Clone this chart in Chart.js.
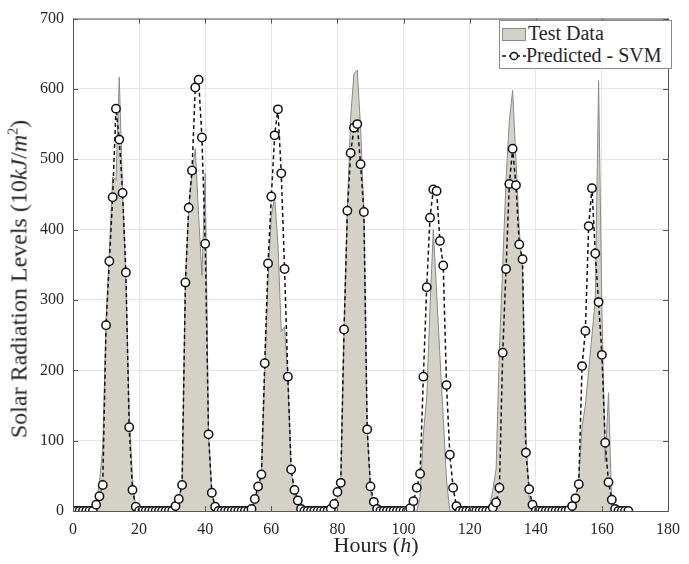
<!DOCTYPE html>
<html>
<head>
<meta charset="utf-8">
<script src="https://cdn.jsdelivr.net/npm/chart.js@4"></script>
<style>
  body { margin: 0; background: #fff; }
  #wrap { position: relative; width: 689px; height: 564px; font-family: "Liberation Serif", serif; color: #262626; }
  #chart { position: absolute; left: 0; top: 0; }
  #ytitle { position: absolute; left: 19px; top: 279px; transform: translate(-50%, -50%) rotate(-90deg); white-space: nowrap; font-size: 24px; }
  #xtitle { position: absolute; left: 376px; top: 545px; transform: translate(-50%, -50%); white-space: nowrap; font-size: 22px; }
  #legend { position: absolute; left: 499px; top: 20px; width: 171px; height: 47px; border: 1px solid #8a8a8a; background: #fff; font-size: 20px; }
  .row { position: absolute; left: 2px; white-space: nowrap; line-height: 22px; }
  .swatch { display: inline-block; width: 22px; height: 11px; background: #d4d1c6; border: 1px solid #8a8a8a; vertical-align: -1px; margin-right: 2px; }
</style>
</head>
<body>
<div id="wrap">
  <canvas id="chart" width="689" height="564"></canvas>
  <div id="ytitle">Solar Radiation Levels (10<i>kJ</i>/<i>m</i><sup style="font-size:14px">2</sup>)</div>
  <div id="xtitle">Hours (<i>h</i>)</div>
  <div id="legend">
    <div class="row" style="top:1px"><span class="swatch"></span>Test Data</div>
    <div class="row" style="top:23px"><svg width="24" height="12" style="vertical-align:0px"><line x1="0" y1="6" x2="24" y2="6" stroke="#111" stroke-width="1.5" stroke-dasharray="4,3"/><circle cx="12" cy="6" r="3.6" fill="#fff" stroke="#111" stroke-width="1.5"/></svg>Predicted - SVM</div>
  </div>
</div>
<script>
const hours = Array.from({ length: 169 }, (_, i) => i);

const testData = [
  0, 0, 0, 0, 0, 0, 0, 10, 40, 90, 270, 370, 475, 470, 617, 455, 330, 140, 45, 3,
  0, 0, 0, 0, 0, 0, 0, 0, 0, 0, 0, 5, 15, 45, 325, 430, 480, 515, 420, 335,
  480, 110, 25, 5, 0, 0, 0, 0, 0, 0, 0, 0, 0, 0, 0, 10, 25, 55, 195, 330,
  420, 447, 380, 255, 262, 190, 60, 20, 3, 0, 0, 0, 0, 0, 0, 0, 0, 0, 0, 5,
  20, 45, 260, 430, 560, 622, 627, 545, 425, 116, 30, 5, 0, 0, 0, 0, 0, 0, 0, 0,
  0, 0, 0, 0, 0, 20, 110, 160, 290, 400, 310, 221, 133, 44, 0, 0, 0, 0, 0, 0,
  0, 0, 0, 0, 0, 0, 5, 30, 60, 230, 350, 470, 555, 598, 500, 400, 340, 110, 20, 0,
  0, 0, 0, 0, 0, 0, 0, 0, 0, 0, 0, 0, 20, 45, 120, 150, 200, 250, 300, 612,
  290, 70, 168, 5, 0, 0, 0, 0, 0
];

const svmData = [
  0, 0, 0, 0, 0, 0, 0, 9, 21, 37, 264, 355, 446, 572, 528, 452, 339, 119, 30, 6,
  0, 0, 0, 0, 0, 0, 0, 0, 0, 0, 0, 7, 17, 37, 325, 431, 484, 602, 613, 531,
  380, 109, 26, 6, 0, 0, 0, 0, 0, 0, 0, 0, 0, 0, 3, 17, 35, 52, 210, 352,
  447, 534, 571, 480, 344, 191, 59, 30, 15, 3, 0, 0, 0, 0, 0, 0, 0, 0, 3, 10,
  27, 40, 258, 427, 509, 545, 550, 493, 425, 116, 35, 13, 3, 0, 0, 0, 0, 0, 0, 0,
  0, 0, 4, 14, 33, 53, 191, 318, 417, 457, 455, 384, 349, 179, 80, 33, 7, 0, 0, 0,
  0, 0, 0, 0, 0, 0, 0, 5, 12, 33, 225, 344, 465, 515, 463, 379, 358, 83, 31, 9,
  0, 0, 0, 0, 0, 0, 0, 0, 0, 0, 1, 7, 18, 38, 206, 256, 405, 459, 366, 297,
  222, 97, 41, 16, 3, 0, 0, 0, 0
];

const xTicks = [0, 20, 40, 60, 80, 100, 120, 140, 160, 180];
const yTicks = [0, 100, 200, 300, 400, 500, 600, 700];

// box round the plot with MATLAB style inward ticks
const frame = {
  id: 'frame',
  afterDatasetsDraw(chart) {
    const { ctx, chartArea: a, scales } = chart;
    ctx.save();
    ctx.strokeStyle = '#555';
    ctx.lineWidth = 1;
    ctx.strokeRect(a.left + 0.5, a.top + 0.5, a.right - a.left, a.bottom - a.top);
    ctx.beginPath();
    xTicks.forEach(v => {
      const x = Math.round(scales.x.getPixelForValue(v)) + 0.5;
      ctx.moveTo(x, a.bottom); ctx.lineTo(x, a.bottom - 5);
      ctx.moveTo(x, a.top); ctx.lineTo(x, a.top + 5);
    });
    yTicks.forEach(v => {
      const y = Math.round(scales.y.getPixelForValue(v)) + 0.5;
      ctx.moveTo(a.left, y); ctx.lineTo(a.left + 5, y);
      ctx.moveTo(a.right, y); ctx.lineTo(a.right - 5, y);
    });
    ctx.stroke();
    ctx.restore();
  }
};

new Chart(document.getElementById('chart'), {
  type: 'line',
  data: {
    datasets: [
      {
        label: 'Test Data',
        data: hours.map((h, i) => ({ x: h, y: testData[i] })),
        fill: 'origin',
        backgroundColor: '#d4d1c6',
        borderColor: '#8a8a8a',
        borderWidth: 1,
        pointRadius: 0,
        tension: 0,
        order: 2
      },
      {
        label: 'Predicted - SVM',
        data: hours.map((h, i) => ({ x: h, y: svmData[i] })),
        fill: false,
        borderColor: '#111',
        borderWidth: 1.5,
        borderDash: [4, 3],
        pointRadius: 4.2,
        pointBackgroundColor: '#fff',
        pointBorderColor: '#111',
        pointBorderWidth: 1.5,
        tension: 0,
        order: 1
      }
    ]
  },
  options: {
    responsive: false,
    animation: false,
    devicePixelRatio: 1,
    layout: { padding: { left: 0, top: 14, right: 13, bottom: 0 } },
    plugins: { legend: { display: false }, tooltip: { enabled: false } },
    scales: {
      x: {
        type: 'linear',
        min: 0,
        max: 180,
        afterBuildTicks: s => { s.ticks = xTicks.map(v => ({ value: v })); },
        afterFit: s => { s.height = 53; },
        grid: { color: '#e6e6e6', drawTicks: false },
        border: { display: false },
        ticks: { padding: 9, color: '#262626', font: { family: 'Liberation Serif', size: 16 }, maxRotation: 0 }
      },
      y: {
        min: 0,
        max: 700,
        afterBuildTicks: s => { s.ticks = yTicks.map(v => ({ value: v })); },
        afterFit: s => { s.width = 73; },
        grid: { color: '#e6e6e6', drawTicks: false },
        border: { display: false },
        ticks: { padding: 9, color: '#262626', font: { family: 'Liberation Serif', size: 16 } }
      }
    }
  },
  plugins: [frame]
});
</script>
</body>
</html>
